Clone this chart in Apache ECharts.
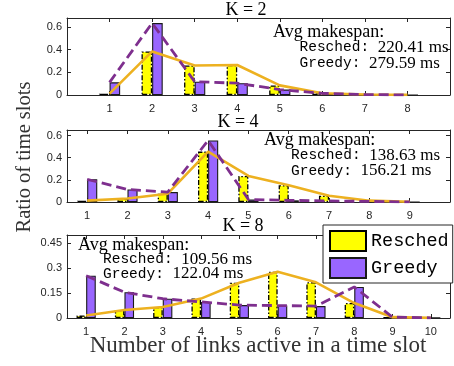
<!DOCTYPE html>
<html>
<head>
<meta charset="utf-8">
<script src="https://cdn.jsdelivr.net/npm/echarts@6/dist/echarts.min.js"></script>
<style>
  html, body { margin: 0; padding: 0; background: #fff; }
  #chart { width: 454px; height: 366px; }
</style>
</head>
<body>
<div id="chart"></div>
<script>
// Share of time slots by number of simultaneously active links, per K
const linksK2 = [1, 2, 3, 4, 5, 6, 7, 8];
const reschedK2 = [0.012, 0.385, 0.26, 0.265, 0.085, 0.015, 0.004, 0.001];
const greedyK2 = [0.112, 0.635, 0.118, 0.104, 0.048, 0.015, 0.004, 0.001];

const linksK4 = [1, 2, 3, 4, 5, 6, 7, 8, 9];
const reschedK4 = [0.012, 0.032, 0.075, 0.455, 0.235, 0.152, 0.056, 0.012, 0.002];
const greedyK4 = [0.205, 0.113, 0.09, 0.556, 0.022, 0.015, 0.01, 0.005, 0.001];

const linksK8 = [1, 2, 3, 4, 5, 6, 7, 8, 9, 10];
const reschedK8 = [0.015, 0.048, 0.066, 0.117, 0.212, 0.278, 0.215, 0.09, 0.005, 0.001];
const greedyK8 = [0.255, 0.155, 0.116, 0.097, 0.078, 0.075, 0.072, 0.187, 0.005, 0.001];

const panelTitles = ['K = 2', 'K = 4', 'K = 8'];
const makespanResched = ['220.41 ms', '138.63 ms', '109.56 ms'];
const makespanGreedy = ['279.59 ms', '156.21 ms', '122.04 ms'];

const yTicksK2 = { max: 0.68, interval: 0.2 };
const yTicksK4 = { max: 0.65, interval: 0.2 };
const yTicksK8 = { max: 0.5, interval: 0.15 };

const SERIF = '"Liberation Serif", "DejaVu Serif", serif';
const MONO = '"Liberation Mono", "DejaVu Sans Mono", monospace';
const SANS = '"Liberation Sans", Arial, sans-serif';
const AXIS = '#262626';
const YELLOW = '#ffff00';
const VIOLET = '#9966ff';
const ORANGE = '#edb120';
const PLUM = '#7e2f8e';

const panels = [
  { links: linksK2, resched: reschedK2, greedy: greedyK2, y: yTicksK2, xMin: 0, xMax: 9,
    grid: { left: 67, right: 4, top: 18, height: 77 }, barW: 10.6 },
  { links: linksK4, resched: reschedK4, greedy: greedyK4, y: yTicksK4, xMin: 0.5, xMax: 10,
    grid: { left: 67, right: 4, top: 130, height: 72 }, barW: 10.1 },
  { links: linksK8, resched: reschedK8, greedy: greedyK8, y: yTicksK8, xMin: 0.5, xMax: 10.5,
    grid: { left: 67, right: 4, top: 235, height: 83 }, barW: 9.6 }
];

const grids = [], xAxes = [], yAxes = [], series = [];

panels.forEach((p, i) => {
  grids.push(Object.assign({ containLabel: false }, p.grid));
  const line = { show: true, onZero: false, lineStyle: { color: AXIS, width: 1 } };
  const tick = { show: true, inside: true, length: 4, lineStyle: { color: AXIS }, customValues: p.links };
  const yTick = { show: true, inside: true, length: 4, lineStyle: { color: AXIS } };
  // bottom axis with labels
  xAxes.push({
    type: 'value', gridIndex: i, min: p.xMin, max: p.xMax, position: 'bottom',
    axisLine: line, axisTick: tick, splitLine: { show: false },
    axisLabel: { customValues: p.links, color: AXIS, fontFamily: SANS, fontSize: 11, margin: 8 }
  });
  // mirrored top axis (ticks only)
  xAxes.push({
    type: 'value', gridIndex: i, min: p.xMin, max: p.xMax, position: 'top',
    axisLine: line, axisTick: tick, splitLine: { show: false }, axisLabel: { show: false }
  });
  yAxes.push({
    type: 'value', gridIndex: i, min: 0, max: p.y.max, interval: p.y.interval, position: 'left',
    axisLine: line, axisTick: yTick, splitLine: { show: false },
    axisLabel: { color: AXIS, fontFamily: SANS, fontSize: 11, margin: 5, showMaxLabel: false }
  });
  // mirrored right axis (ticks only)
  yAxes.push({
    type: 'value', gridIndex: i, min: 0, max: p.y.max, interval: p.y.interval, position: 'right',
    axisLine: line, axisTick: yTick, splitLine: { show: false }, axisLabel: { show: false }
  });
  const xi = i * 2, yi = i * 2;
  const rPts = p.links.map((x, k) => [x, p.resched[k]]);
  const gPts = p.links.map((x, k) => [x, p.greedy[k]]);
  series.push({
    name: 'Resched', type: 'bar', xAxisIndex: xi, yAxisIndex: yi, data: rPts,
    barWidth: p.barW, barGap: '0%', z: 2,
    itemStyle: { color: YELLOW, borderColor: '#000', borderWidth: 1.3, borderType: [5, 2, 1.5, 2] }
  });
  series.push({
    name: 'Greedy', type: 'bar', xAxisIndex: xi, yAxisIndex: yi, data: gPts,
    barWidth: p.barW, barGap: '0%', z: 2,
    itemStyle: { color: VIOLET, borderColor: '#1a1a1a', borderWidth: 1.1 }
  });
  series.push({
    name: 'Resched trend', type: 'line', xAxisIndex: xi, yAxisIndex: yi, data: rPts,
    showSymbol: false, symbol: 'none', z: 4,
    lineStyle: { color: ORANGE, width: 2.6 }
  });
  series.push({
    name: 'Greedy trend', type: 'line', xAxisIndex: xi, yAxisIndex: yi, data: gPts,
    showSymbol: false, symbol: 'none', z: 5,
    lineStyle: { color: PLUM, width: 2.8, type: [10, 5] }
  });
});

// panel titles and makespan notes
const titlePos = [[246, 10], [238, 122], [243, 226]];
const notePos = [
  { avg: [273, 32.7], rows: [299.5, 47.5, 63.3] },
  { avg: [264, 140], rows: [291, 155.5, 171] },
  { avg: [78, 245], rows: [103, 259.5, 274] }
];
const richNote = {
  m: { fontFamily: MONO, fontSize: 14.5, fill: '#000' },
  s: { fontFamily: SERIF, fontSize: 17, fill: '#000' }
};
const graphics = [];
panelTitles.forEach((t, i) => {
  graphics.push({
    type: 'text', x: titlePos[i][0], y: titlePos[i][1], z: 10,
    style: { text: t, font: '18px ' + SERIF, fill: '#000', align: 'center', verticalAlign: 'middle' }
  });
  const n = notePos[i];
  graphics.push({
    type: 'text', x: n.avg[0], y: n.avg[1], z: 10,
    style: { text: 'Avg makespan:', font: '18px ' + SERIF, fill: '#000', align: 'left', verticalAlign: 'middle' }
  });
  graphics.push({
    type: 'text', x: n.rows[0], y: n.rows[1], z: 10,
    style: { text: '{m|Resched: }{s|' + makespanResched[i] + '}', rich: richNote, align: 'left', verticalAlign: 'middle' }
  });
  graphics.push({
    type: 'text', x: n.rows[0], y: n.rows[2], z: 10,
    style: { text: '{m|Greedy: }{s|' + makespanGreedy[i] + '}', rich: richNote, align: 'left', verticalAlign: 'middle' }
  });
});
graphics.push({
  type: 'text', x: 258, y: 346, z: 10,
  style: { text: 'Number of links active in a time slot', font: '23px ' + SERIF, fill: '#333',
    align: 'center', verticalAlign: 'middle' }
});
graphics.push({
  type: 'text', x: 25, y: 157, rotation: Math.PI / 2, z: 10,
  style: { text: 'Ratio of time slots', font: '20.5px ' + SERIF, fill: '#333',
    align: 'center', verticalAlign: 'middle' }
});

const chart = echarts.init(document.getElementById('chart'), null, { renderer: 'canvas' });
chart.setOption({
  animation: false,
  backgroundColor: '#fff',
  grid: grids,
  xAxis: xAxes,
  yAxis: yAxes,
  series: series,
  legend: {
    data: ['Resched', 'Greedy'], orient: 'vertical', left: 323, top: 225,
    icon: 'rect', itemWidth: 36, itemHeight: 20, itemGap: 5,
    padding: [5, 4, 4, 6], backgroundColor: '#fff', borderColor: AXIS, borderWidth: 1,
    textStyle: { fontFamily: MONO, fontSize: 18.5, color: '#000' }, z: 20
  },
  graphic: graphics
});
</script>
</body>
</html>
